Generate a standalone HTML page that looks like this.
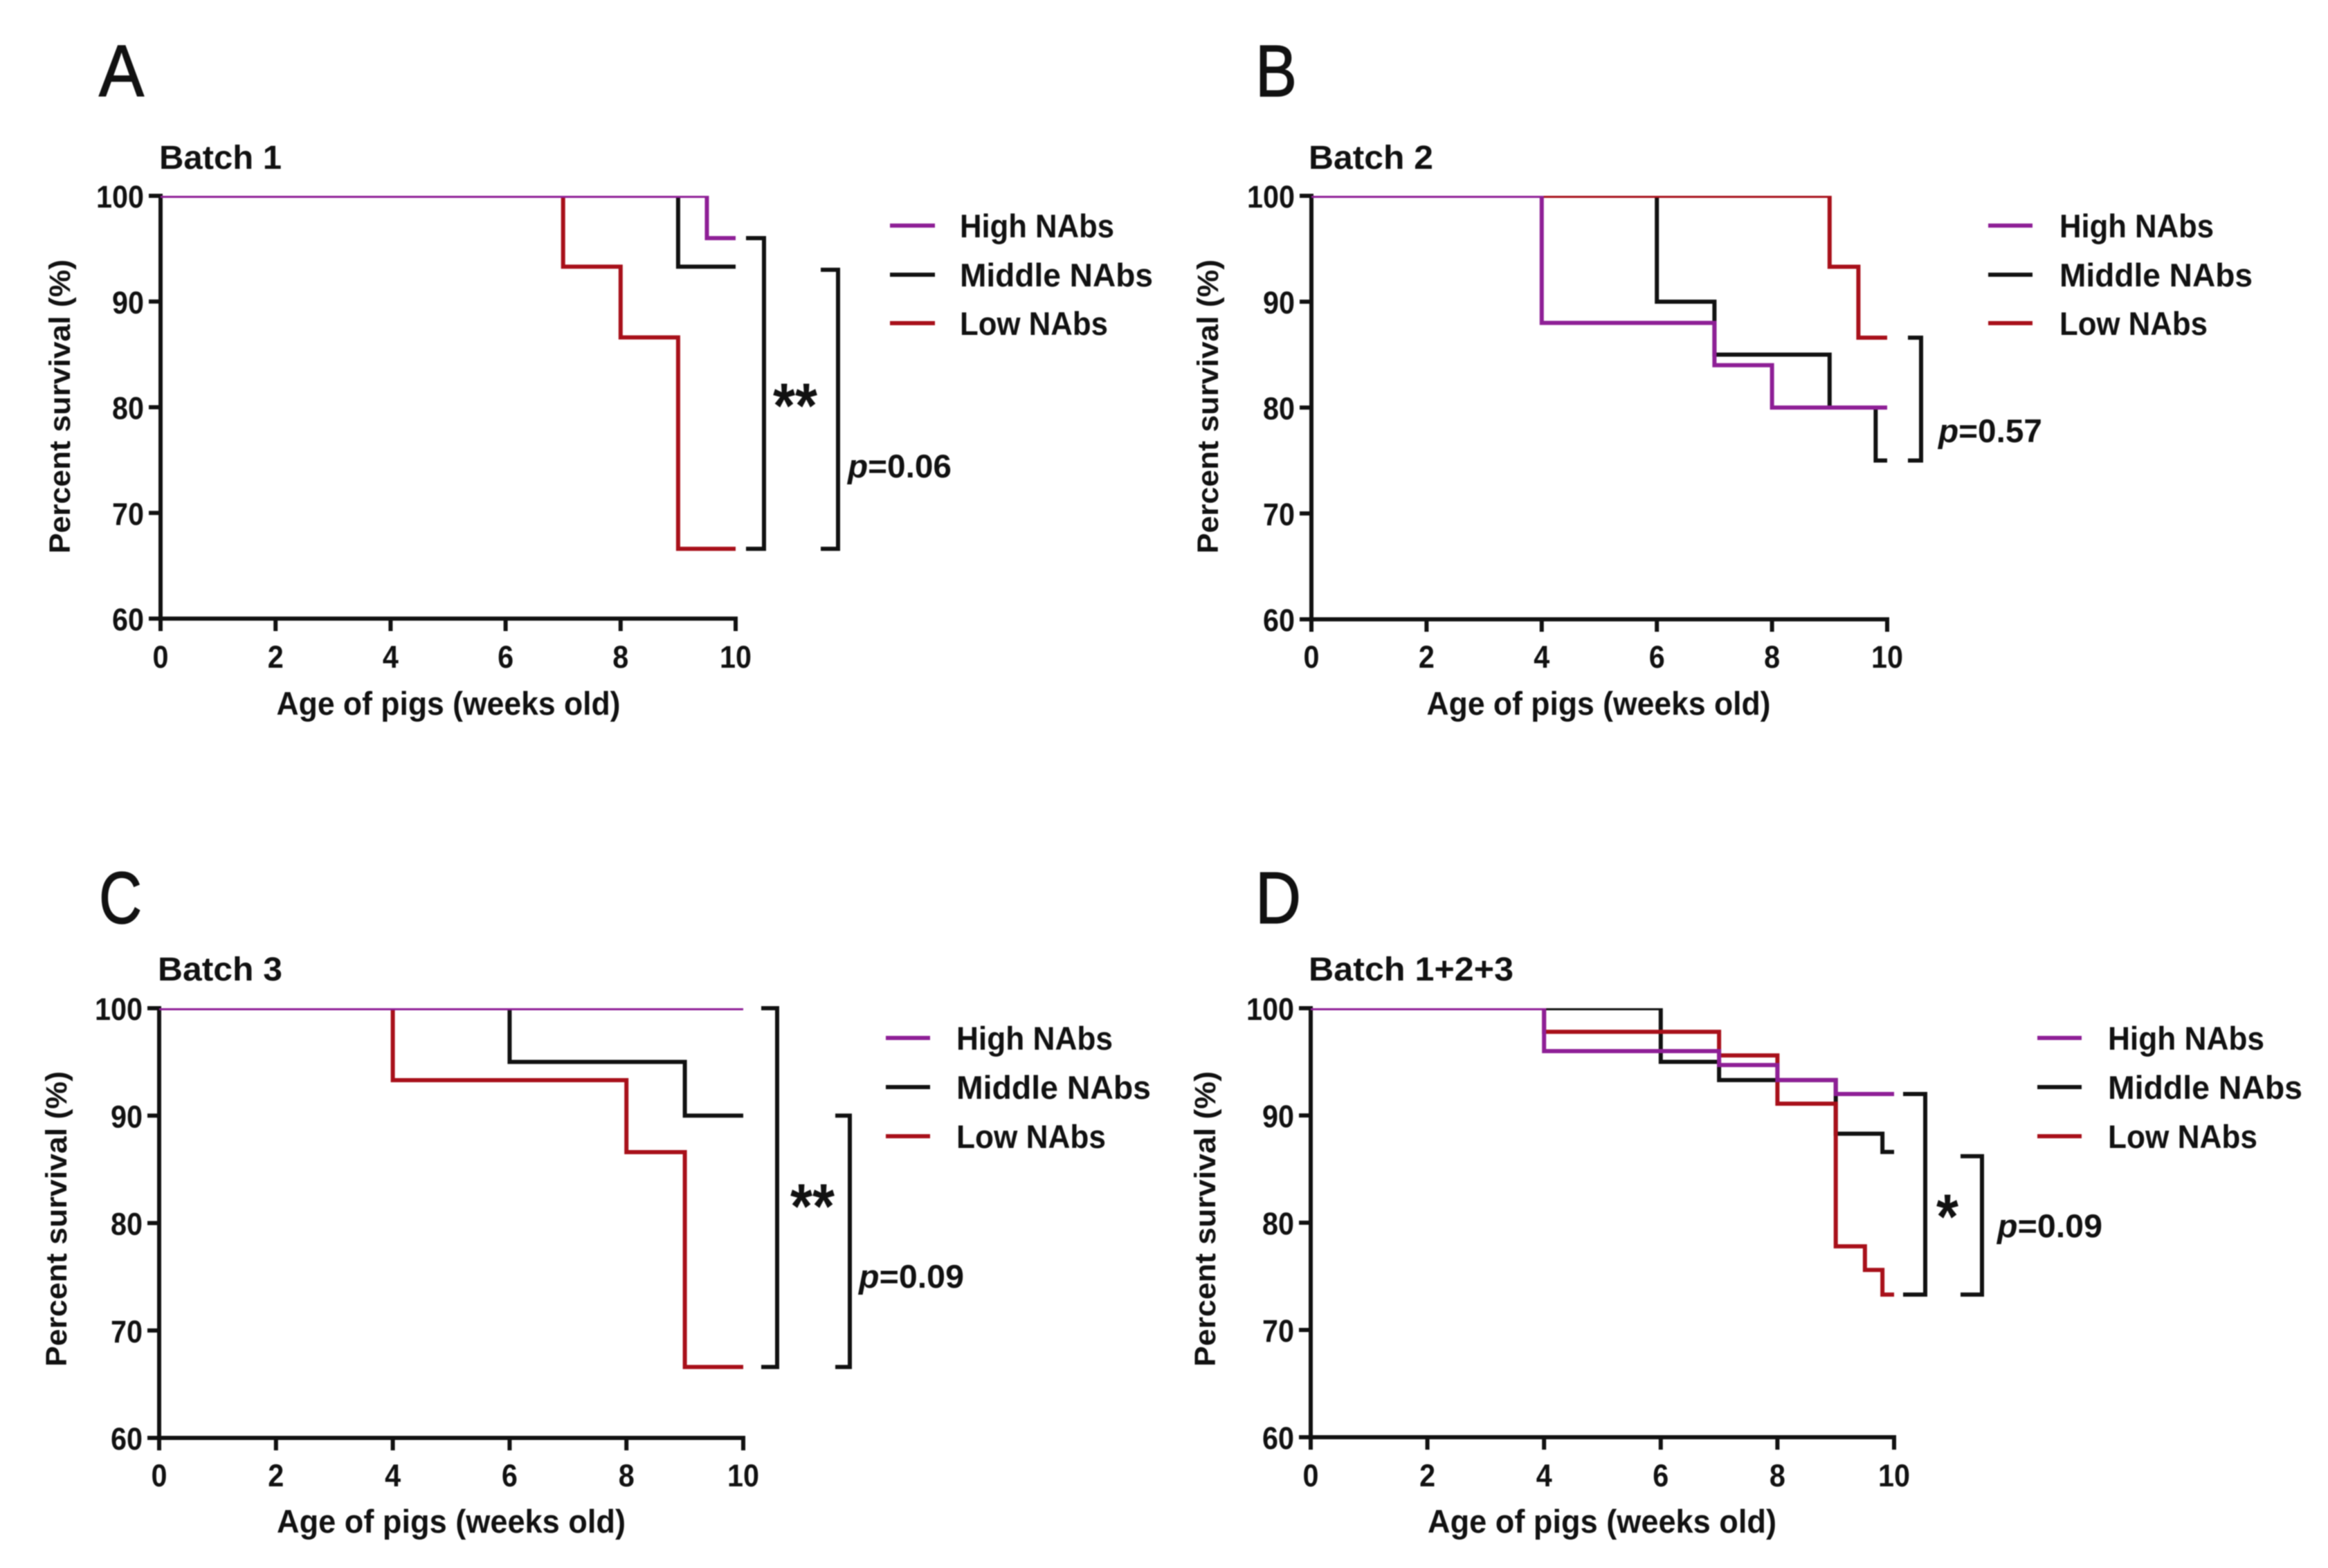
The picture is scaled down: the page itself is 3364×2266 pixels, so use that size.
<!DOCTYPE html>
<html lang="en">
<head>
<meta charset="utf-8">
<title>Survival of pigs by NAbs level</title>
<style>
html,body{margin:0;padding:0;background:#fff;width:3364px;height:2266px;overflow:hidden}
svg{display:block;filter:blur(0.9px)}
text{font-family:"Liberation Sans",sans-serif;fill:#111}
.letter{font-size:106px;stroke:#111;stroke-width:1.5px}
.title{font-size:48px;font-weight:700}
.leg{font-size:47px;font-weight:700}
.axt{font-size:47px;font-weight:700}
.yt{font-size:43px;font-weight:700}
.tick{font-size:45px;font-weight:700}
.pv{font-size:47px;font-weight:700}
.star{font-size:92px;font-weight:700}
</style>
</head>
<body>
<svg id="figure" xmlns="http://www.w3.org/2000/svg" width="3364" height="2266" viewBox="0 0 3364 2266">
<rect x="0" y="0" width="3364" height="2266" fill="#fff"/>

<g id="panel-a">
  <text class="letter" x="143" y="139" textLength="65" lengthAdjust="spacingAndGlyphs">A</text>
  <text class="title" x="230" y="244" textLength="177" lengthAdjust="spacingAndGlyphs">Batch 1</text>
  <text class="axt" x="648" y="1033" text-anchor="middle" textLength="497" lengthAdjust="spacingAndGlyphs">Age of pigs (weeks old)</text>
  <text class="yt" transform="translate(101,800) rotate(-90)" textLength="425" lengthAdjust="spacingAndGlyphs">Percent survival (%)</text>
  <g>
    <line x1="1286" x2="1351" y1="326" y2="326" stroke="#8e1f96" stroke-width="6"/>
    <line x1="1286" x2="1351" y1="397" y2="397" stroke="#111" stroke-width="6"/>
    <line x1="1286" x2="1351" y1="467" y2="467" stroke="#a8101a" stroke-width="6"/>
    <text class="leg" x="1387" y="343" textLength="223" lengthAdjust="spacingAndGlyphs">High NAbs</text>
    <text class="leg" x="1387" y="414" textLength="279" lengthAdjust="spacingAndGlyphs">Middle NAbs</text>
    <text class="leg" x="1387" y="484" textLength="214" lengthAdjust="spacingAndGlyphs">Low NAbs</text>
  </g>
  <text class="star" x="1149" y="618" text-anchor="middle" textLength="64" lengthAdjust="spacingAndGlyphs">**</text>
  <text class="pv" x="1225" y="690" textLength="150" lengthAdjust="spacingAndGlyphs"><tspan font-style="italic">p</tspan>=0.06</text>
</g>

<g id="panel-b">
  <text class="letter" x="1814" y="139" textLength="60" lengthAdjust="spacingAndGlyphs">B</text>
  <text class="title" x="1891" y="244" textLength="180" lengthAdjust="spacingAndGlyphs">Batch 2</text>
  <text class="axt" x="2310" y="1033" text-anchor="middle" textLength="497" lengthAdjust="spacingAndGlyphs">Age of pigs (weeks old)</text>
  <text class="yt" transform="translate(1760,800) rotate(-90)" textLength="425" lengthAdjust="spacingAndGlyphs">Percent survival (%)</text>
  <g>
    <line x1="2873" x2="2937" y1="326" y2="326" stroke="#8e1f96" stroke-width="6"/>
    <line x1="2873" x2="2937" y1="397" y2="397" stroke="#111" stroke-width="6"/>
    <line x1="2873" x2="2937" y1="467" y2="467" stroke="#a8101a" stroke-width="6"/>
    <text class="leg" x="2976" y="343" textLength="223" lengthAdjust="spacingAndGlyphs">High NAbs</text>
    <text class="leg" x="2976" y="414" textLength="279" lengthAdjust="spacingAndGlyphs">Middle NAbs</text>
    <text class="leg" x="2976" y="484" textLength="214" lengthAdjust="spacingAndGlyphs">Low NAbs</text>
  </g>
  <text class="pv" x="2801" y="639" textLength="150" lengthAdjust="spacingAndGlyphs"><tspan font-style="italic">p</tspan>=0.57</text>
</g>

<g id="panel-c">
  <text class="letter" x="143" y="1334" textLength="62" lengthAdjust="spacingAndGlyphs">C</text>
  <text class="title" x="228" y="1417" textLength="180" lengthAdjust="spacingAndGlyphs">Batch 3</text>
  <text class="axt" x="652" y="2215" text-anchor="middle" textLength="504" lengthAdjust="spacingAndGlyphs">Age of pigs (weeks old)</text>
  <text class="yt" transform="translate(96,1975) rotate(-90)" textLength="427" lengthAdjust="spacingAndGlyphs">Percent survival (%)</text>
  <g>
    <line x1="1280" x2="1344" y1="1500" y2="1500" stroke="#8e1f96" stroke-width="6"/>
    <line x1="1280" x2="1344" y1="1571" y2="1571" stroke="#111" stroke-width="6"/>
    <line x1="1280" x2="1344" y1="1642" y2="1642" stroke="#a8101a" stroke-width="6"/>
    <text class="leg" x="1382" y="1517" textLength="226" lengthAdjust="spacingAndGlyphs">High NAbs</text>
    <text class="leg" x="1382" y="1588" textLength="281" lengthAdjust="spacingAndGlyphs">Middle NAbs</text>
    <text class="leg" x="1382" y="1659" textLength="216" lengthAdjust="spacingAndGlyphs">Low NAbs</text>
  </g>
  <text class="star" x="1174" y="1775" text-anchor="middle" textLength="64" lengthAdjust="spacingAndGlyphs">**</text>
  <text class="pv" x="1241" y="1861" textLength="152" lengthAdjust="spacingAndGlyphs"><tspan font-style="italic">p</tspan>=0.09</text>
</g>

<g id="panel-d">
  <text class="letter" x="1814" y="1334" textLength="66" lengthAdjust="spacingAndGlyphs">D</text>
  <text class="title" x="1891" y="1417" textLength="296" lengthAdjust="spacingAndGlyphs">Batch 1+2+3</text>
  <text class="axt" x="2315" y="2215" text-anchor="middle" textLength="504" lengthAdjust="spacingAndGlyphs">Age of pigs (weeks old)</text>
  <text class="yt" transform="translate(1756,1975) rotate(-90)" textLength="427" lengthAdjust="spacingAndGlyphs">Percent survival (%)</text>
  <g>
    <line x1="2944" x2="3008" y1="1500" y2="1500" stroke="#8e1f96" stroke-width="6"/>
    <line x1="2944" x2="3008" y1="1571" y2="1571" stroke="#111" stroke-width="6"/>
    <line x1="2944" x2="3008" y1="1642" y2="1642" stroke="#a8101a" stroke-width="6"/>
    <text class="leg" x="3046" y="1517" textLength="226" lengthAdjust="spacingAndGlyphs">High NAbs</text>
    <text class="leg" x="3046" y="1588" textLength="281" lengthAdjust="spacingAndGlyphs">Middle NAbs</text>
    <text class="leg" x="3046" y="1659" textLength="216" lengthAdjust="spacingAndGlyphs">Low NAbs</text>
  </g>
  <text class="star" x="2814" y="1790" text-anchor="middle" textLength="32" lengthAdjust="spacingAndGlyphs">*</text>
  <text class="pv" x="2886" y="1788" textLength="152" lengthAdjust="spacingAndGlyphs"><tspan font-style="italic">p</tspan>=0.09</text>
</g>
</svg>

<script>
// Axis tick labels
const weekTicks = [0, 2, 4, 6, 8, 10];
const survivalTicks = [60, 70, 80, 90, 100];

// Panel A - Batch 1
const aHighWeeks = [0, 9.5, 10];
const aHighSurvival = [100, 96, 96];
const aMiddleWeeks = [0, 9, 10];
const aMiddleSurvival = [100, 93.3, 93.3];
const aLowWeeks = [0, 7, 8, 9, 10];
const aLowSurvival = [100, 93.3, 86.6, 66.6, 66.6];
const aBracketValues = [[96, 66.6], [93, 66.6]];

// Panel B - Batch 2
const bHighWeeks = [0, 4, 7, 8, 10];
const bHighSurvival = [100, 88, 84, 80, 80];
const bMiddleWeeks = [0, 6, 7, 9, 9.8, 10];
const bMiddleSurvival = [100, 90, 85, 80, 75, 75];
const bLowWeeks = [0, 9, 9.5, 10];
const bLowSurvival = [100, 93.3, 86.6, 86.6];
const bBracketValues = [[86.6, 75]];

// Panel C - Batch 3
const cHighWeeks = [0, 10];
const cHighSurvival = [100, 100];
const cMiddleWeeks = [0, 6, 9, 10];
const cMiddleSurvival = [100, 95, 90, 90];
const cLowWeeks = [0, 4, 8, 9, 10];
const cLowSurvival = [100, 93.3, 86.6, 66.6, 66.6];
const cBracketValues = [[100, 66.6], [90, 66.6]];

// Panel D - Batch 1+2+3
const dHighWeeks = [0, 4, 7, 8, 9, 10];
const dHighSurvival = [100, 96, 94.7, 93.3, 92, 92];
const dMiddleWeeks = [0, 6, 7, 9, 9.8, 10];
const dMiddleSurvival = [100, 95, 93.3, 88.3, 86.6, 86.6];
const dLowWeeks = [0, 4, 7, 8, 9, 9.5, 9.8, 10];
const dLowSurvival = [100, 97.8, 95.6, 91.1, 77.8, 75.6, 73.3, 73.3];
const dBracketValues = [[92, 73.3], [86.2, 73.3]];

const SVGNS = 'http://www.w3.org/2000/svg';
const HIGH_COLOR = '#8e1f96';
const MIDDLE_COLOR = '#111111';
const LOW_COLOR = '#a8101a';

function make(tag, attrs) {
  const el = document.createElementNS(SVGNS, tag);
  for (const k in attrs) el.setAttribute(k, attrs[k]);
  return el;
}

function drawPanel(id, frame, series, brackets, bracketBoxes) {
  const root = document.getElementById(id);
  const sx = w => frame.x0 + (w / 10) * (frame.x10 - frame.x0);
  const sy = v => frame.y60 - ((v - 60) / 40) * (frame.y60 - frame.y100);

  const axes = make('g', {});
  
  
  root.appendChild(axes);

  const yAxis = make('line', {x1: sx(0), x2: sx(0), y1: sy(100) - 3, y2: sy(60) + 18, stroke: '#111', 'stroke-width': 6});
  
  
  axes.appendChild(yAxis);

  const xAxis = make('line', {x1: sx(0) - 17, x2: sx(10) + 3, y1: sy(60), y2: sy(60), stroke: '#111', 'stroke-width': 6});
  
  
  axes.appendChild(xAxis);

  weekTicks.forEach(w => {
    const t = make('line', {x1: sx(w), x2: sx(w), y1: sy(60), y2: sy(60) + 18, stroke: '#111', 'stroke-width': 6});
    
    
    axes.appendChild(t);
    const s = String(w);
    const label = make('text', {class: 'tick', x: sx(w), y: frame.xLabelY, 'text-anchor': 'middle', textLength: s.length * 23, lengthAdjust: 'spacingAndGlyphs'});
    
    
    label.textContent = s;
    axes.appendChild(label);
  });

  survivalTicks.forEach(v => {
    const t = make('line', {x1: sx(0) - 17, x2: sx(0), y1: sy(v), y2: sy(v), stroke: '#111', 'stroke-width': 6});
    
    
    axes.appendChild(t);
    const s = String(v);
    const label = make('text', {class: 'tick', x: sx(0) - 24, y: sy(v) + 17, 'text-anchor': 'end', textLength: s.length * 23, lengthAdjust: 'spacingAndGlyphs'});
    
    
    label.textContent = s;
    axes.appendChild(label);
  });

  const clipId = id + '-clip';
  const clip = make('clipPath', {id: clipId});
  clip.appendChild(make('rect', {x: sx(0), y: sy(100), width: sx(10) - sx(0) + 4, height: sy(60) - sy(100) + 2}));
  root.appendChild(clip);

  const marks = make('g', {'clip-path': 'url(#' + clipId + ')'});
  
  
  root.appendChild(marks);

  series.forEach(s => {
    let d = 'M' + sx(s.weeks[0]) + ' ' + sy(s.values[0]);
    for (let i = 1; i < s.weeks.length; i++) {
      d += ' H' + sx(s.weeks[i]) + ' V' + sy(s.values[i]);
    }
    const path = make('path', {d: d, fill: 'none', stroke: s.color, 'stroke-width': 6, 'stroke-linejoin': 'miter'});
    
    
    marks.appendChild(path);
  });

  brackets.forEach((b, i) => {
    const box = bracketBoxes[i];
    const d = 'M' + box[0] + ' ' + sy(b[0]) + ' H' + box[1] + ' V' + sy(b[1]) + ' H' + box[0];
    const path = make('path', {d: d, fill: 'none', stroke: '#111', 'stroke-width': 6});
    
    
    root.appendChild(path);
  });
}

drawPanel('panel-a', {x0: 232, x10: 1063, y100: 283, y60: 894, xLabelY: 965}, [
  {name: 'curve-middle-nabs', color: MIDDLE_COLOR, weeks: aMiddleWeeks, values: aMiddleSurvival},
  {name: 'curve-low-nabs', color: LOW_COLOR, weeks: aLowWeeks, values: aLowSurvival},
  {name: 'curve-high-nabs', color: HIGH_COLOR, weeks: aHighWeeks, values: aHighSurvival}
], aBracketValues, [[1078, 1104], [1186, 1211]]);

drawPanel('panel-b', {x0: 1895, x10: 2727, y100: 283, y60: 895, xLabelY: 965}, [
  {name: 'curve-middle-nabs', color: MIDDLE_COLOR, weeks: bMiddleWeeks, values: bMiddleSurvival},
  {name: 'curve-low-nabs', color: LOW_COLOR, weeks: bLowWeeks, values: bLowSurvival},
  {name: 'curve-high-nabs', color: HIGH_COLOR, weeks: bHighWeeks, values: bHighSurvival}
], bBracketValues, [[2757, 2776]]);

drawPanel('panel-c', {x0: 230, x10: 1074, y100: 1457, y60: 2078, xLabelY: 2148}, [
  {name: 'curve-middle-nabs', color: MIDDLE_COLOR, weeks: cMiddleWeeks, values: cMiddleSurvival},
  {name: 'curve-low-nabs', color: LOW_COLOR, weeks: cLowWeeks, values: cLowSurvival},
  {name: 'curve-high-nabs', color: HIGH_COLOR, weeks: cHighWeeks, values: cHighSurvival}
], cBracketValues, [[1100, 1123], [1207, 1228]]);

drawPanel('panel-d', {x0: 1894, x10: 2737, y100: 1457, y60: 2077, xLabelY: 2148}, [
  {name: 'curve-middle-nabs', color: MIDDLE_COLOR, weeks: dMiddleWeeks, values: dMiddleSurvival},
  {name: 'curve-low-nabs', color: LOW_COLOR, weeks: dLowWeeks, values: dLowSurvival},
  {name: 'curve-high-nabs', color: HIGH_COLOR, weeks: dHighWeeks, values: dHighSurvival}
], dBracketValues, [[2750, 2782], [2833, 2864]]);
</script>
</body>
</html>
